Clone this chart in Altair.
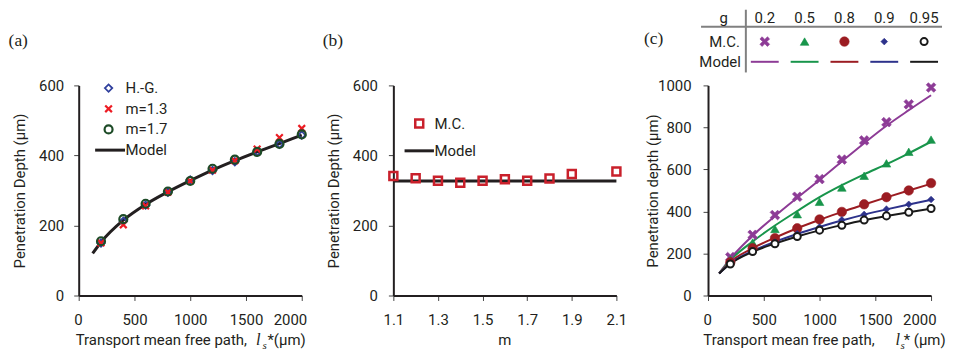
import altair as alt
import pandas as pd

FONT = "Roboto"
SERIF = "Liberation Serif"
INK = "#231f20"
GREY = "#808080"
W, H = 224, 211
FS = 15

XTHIN = "M-1,-1L1,1M-1,1L1,-1"
XFAT = "M-1,-0.55L-0.45,0L-1,0.55L-0.55,1L0,0.45L0.55,1L1,0.55L0.45,0L1,-0.55L0.55,-1L0,-0.45L-0.55,-1Z"

# ---------------- panel (a) data
a_ls = [200, 400, 600, 800, 1000, 1200, 1400, 1600, 1800, 2000]
a_hg = [150, 212, 258, 295, 330, 357, 382, 410, 432, 458]
a_m13 = [150, 202, 256, 295, 327, 358, 385, 418, 451, 477]
a_m17 = [155, 218, 262, 297, 327, 362, 388, 410, 433, 460]
a_model_ls = [125, 200, 400, 600, 800, 1000, 1200, 1400, 1600, 1800, 2000]
a_model = [120, 152, 215, 260, 296, 328, 358, 385, 410, 434, 458]
a_series = ["H.-G.", "m=1.3", "m=1.7", "Model"]
a_xticks = [0, 500, 1000, 1500, 2000]
a_yticks = [0, 200, 400, 600]

# ---------------- panel (b) data
b_m = [1.1, 1.2, 1.3, 1.4, 1.5, 1.6, 1.7, 1.8, 1.9, 2.1]
b_mc = [341, 335, 328, 322, 328, 332, 328, 334, 347, 354]
b_model_m = [1.1, 2.1]
b_model = [327, 327]
b_series = ["M.C.", "Model"]
b_xticks = [1.1, 1.3, 1.5, 1.7, 1.9, 2.1]
b_yticks = [0, 200, 400, 600]

# ---------------- panel (c) data
c_g = ["0.2", "0.5", "0.8", "0.9", "0.95"]
c_ls = [200, 400, 600, 800, 1000, 1200, 1400, 1600, 1800, 2000]
c_mc_02 = [183, 289, 383, 470, 554, 647, 738, 825, 910, 990]
c_mc_05 = [172, 252, 317, 387, 446, 514, 570, 629, 684, 742]
c_mc_08 = [158, 225, 273, 320, 362, 398, 434, 468, 500, 535]
c_mc_09 = [152, 212, 254, 294, 326, 360, 386, 411, 434, 457]
c_mc_095 = [150, 209, 246, 281, 311, 334, 359, 379, 396, 414]
c_model_ls = [100, 200, 400, 600, 800, 1000, 1200, 1400, 1600, 1800, 2000]
c_model_02 = [105, 175, 285, 378, 465, 550, 638, 725, 808, 882, 953]
c_model_05 = [105, 168, 257, 333, 402, 468, 525, 577, 625, 677, 732]
c_model_08 = [105, 160, 225, 275, 320, 360, 398, 433, 467, 500, 532]
c_model_09 = [105, 153, 212, 256, 293, 326, 357, 385, 410, 433, 455]
c_model_095 = [105, 151, 208, 247, 281, 310, 335, 358, 378, 396, 413]
c_xticks = [0, 500, 1000, 1500, 2000]
c_yticks = [0, 200, 400, 600, 800, 1000]

C_COLORS = ["#8d3b96", "#18954b", "#9b1c22", "#2d328b", "#1a1a1a"]


def note(text, x, y, align="left", baseline="alphabetic", font=FONT, size=FS,
         style="normal", color=INK):
    return alt.Chart(pd.DataFrame({"t": [text]})).mark_text(
        align=align, baseline=baseline, font=font, fontSize=size,
        fontStyle=style, color=color
    ).encode(x=alt.value(x), y=alt.value(y), text="t:N")


def ls_title(x_main_end, x_l, x_s, x_rest, rest):
    return [
        note("Transport mean free path,", x_main_end, 261, align="right"),
        note("l", x_l, 261, font=SERIF, size=16.5, style="italic"),
        note("s", x_s, 264.5, font=SERIF, size=11, style="italic"),
        note(rest, x_rest, 261),
    ]


# ================= panel (a)
a_pts = pd.DataFrame({
    "ls": a_ls * 3,
    "depth": a_hg + a_m13 + a_m17,
    "series": [a_series[0]] * 10 + [a_series[1]] * 10 + [a_series[2]] * 10,
})
a_mod = pd.DataFrame({"ls": a_model_ls, "depth": a_model})
a_leg = pd.DataFrame({"series": a_series})

A_STYLE = {
    "H.-G.": dict(shape="diamond", filled=False, stroke="#2f3f9d", size=55, strokeWidth=1.8),
    "m=1.3": dict(shape=XTHIN, filled=False, stroke="#ed1c24", size=45, strokeWidth=2.2),
    "m=1.7": dict(shape="circle", filled=False, stroke="#1d4b27", size=64, strokeWidth=2.2),
    "Model": dict(shape="stroke", filled=False, stroke=INK, size=900, strokeWidth=3, xOffset=1.5),
}

xa = alt.X("ls:Q", scale=alt.Scale(domain=[0, 2000], nice=False),
           axis=alt.Axis(values=a_xticks, format="d", title=None, labelFlush=True,
                         labelFlushOffset=5, labelPadding=12))
ya = alt.Y("depth:Q", scale=alt.Scale(domain=[0, 600], nice=False),
           axis=alt.Axis(values=a_yticks, format="d", title="Penetration Depth  (μm)",
                         labelPadding=10, titlePadding=11))

a_data = alt.layer(
    alt.Chart(a_mod).mark_line(color=INK, strokeWidth=3, interpolate="monotone").encode(x=xa, y=ya),
    *[alt.Chart(a_pts).transform_filter(alt.datum.series == s)
      .mark_point(opacity=1, **A_STYLE[s]).encode(x=xa, y=ya) for s in a_series[:3]]
)
a_ly = alt.Y("series:N", scale=alt.Scale(type="point", domain=a_series, range=[2.7, 65], padding=0), axis=None)
a_legend = alt.layer(
    *[alt.Chart(a_leg).transform_filter(alt.datum.series == s)
      .mark_point(opacity=1, **A_STYLE[s]).encode(x=alt.value(30), y=a_ly) for s in a_series],
    alt.Chart(a_leg).mark_text(align="left", baseline="middle", font=FONT, fontSize=FS, color=INK)
    .encode(x=alt.value(47), y=a_ly, text="series:N"),
)
panel_a = alt.layer(
    a_data, a_legend,
    note("(a)", -70.4, -40, font=SERIF, size=17.5),
    *ls_title(169, 178, 184.5, 189.5, "*(μm)"),
).resolve_scale(x="independent", y="independent").properties(width=W, height=H)

# ================= panel (b)
b_pts = pd.DataFrame({"m": b_m, "depth": b_mc, "series": ["M.C."] * len(b_m)})
b_mod = pd.DataFrame({"m": b_model_m, "depth": b_model})
b_leg = pd.DataFrame({"series": b_series})
B_STYLE = {
    "M.C.": dict(shape="square", filled=False, stroke="#c9202b", size=64, strokeWidth=2.5),
    "Model": dict(shape="stroke", filled=False, stroke=INK, size=870, strokeWidth=3),
}
xb = alt.X("m:Q", scale=alt.Scale(domain=[1.1, 2.1], nice=False, zero=False),
           axis=alt.Axis(values=b_xticks, format=".1f", title=None, labelFlush=False, labelPadding=12))
yb = alt.Y("depth:Q", scale=alt.Scale(domain=[0, 600], nice=False),
           axis=alt.Axis(values=b_yticks, format="d", title="Penetration Depth (μm)",
                         labelPadding=11, titlePadding=11))
b_data = alt.layer(
    alt.Chart(b_mod).mark_line(color=INK, strokeWidth=3).encode(x=xb, y=yb),
    alt.Chart(b_pts).mark_point(opacity=1, **B_STYLE["M.C."]).encode(x=xb, y=yb),
)
b_ly = alt.Y("series:N", scale=alt.Scale(type="point", domain=b_series, range=[38.3, 65.7], padding=0), axis=None)
b_legend = alt.layer(
    *[alt.Chart(b_leg).transform_filter(alt.datum.series == s)
      .mark_point(opacity=1, **B_STYLE[s]).encode(x=alt.value(26), y=b_ly) for s in b_series],
    alt.Chart(b_leg).mark_text(align="left", baseline="middle", font=FONT, fontSize=FS, color=INK)
    .encode(x=alt.value(41.3), y=b_ly, text="series:N"),
)
panel_b = alt.layer(
    b_data, b_legend,
    note("(b)", -71, -40, font=SERIF, size=17.5),
    note("m", 112, 261, align="center"),
).resolve_scale(x="independent", y="independent").properties(width=W, height=H)

# ================= panel (c)
c_mc_lists = [c_mc_02, c_mc_05, c_mc_08, c_mc_09, c_mc_095]
c_model_lists = [c_model_02, c_model_05, c_model_08, c_model_09, c_model_095]
c_pts = pd.DataFrame({
    "ls": c_ls * 5,
    "depth": sum(c_mc_lists, []),
    "g": sum([[g] * len(c_ls) for g in c_g], []),
})
c_mod = pd.DataFrame({
    "ls": c_model_ls * 5,
    "depth": sum(c_model_lists, []),
    "g": sum([[g] * len(c_model_ls) for g in c_g], []),
})
c_leg = pd.DataFrame({"g": c_g})
P, G, R, N, K = C_COLORS
C_STYLE = {
    "0.2": dict(shape=XFAT, filled=True, fill=P, stroke=P, strokeWidth=0.6, size=95),
    "0.5": dict(shape="triangle-up", filled=True, fill=G, stroke=G, strokeWidth=0.6, size=75),
    "0.8": dict(shape="circle", filled=True, fill=R, stroke=R, strokeWidth=0.6, size=90),
    "0.9": dict(shape="diamond", filled=True, fill=N, stroke=N, strokeWidth=0.6, size=45),
    "0.95": dict(shape="circle", filled=True, fill="white", stroke=K, strokeWidth=2, size=50),
}
xc = alt.X("ls:Q", scale=alt.Scale(domain=[0, 2000], nice=False),
           axis=alt.Axis(values=c_xticks, format="d", title=None, labelFlush=True,
                         labelFlushOffset=5, labelPadding=12))
yc = alt.Y("depth:Q", scale=alt.Scale(domain=[0, 1000], nice=False),
           axis=alt.Axis(values=c_yticks, format="d", title="Penetration depth (μm)",
                         labelPadding=12, titlePadding=-3))
c_data = alt.layer(
    alt.Chart(c_mod).mark_line(strokeWidth=2, interpolate="monotone").encode(
        x=xc, y=yc,
        color=alt.Color("g:N", scale=alt.Scale(domain=c_g, range=C_COLORS), legend=None)),
    *[alt.Chart(c_pts).transform_filter(alt.datum.g == g)
      .mark_point(opacity=1, **C_STYLE[g]).encode(x=xc, y=yc) for g in c_g]
)
c_lx = alt.X("g:N", scale=alt.Scale(type="point", domain=c_g, range=[57, 217], padding=0), axis=None)
c_legend = alt.layer(
    alt.Chart(c_leg).mark_text(align="center", baseline="middle", font=FONT, fontSize=FS, color=INK)
    .encode(x=c_lx, y=alt.value(-67.7), text="g:N"),
    *[alt.Chart(c_leg).transform_filter(alt.datum.g == g)
      .mark_point(opacity=1, **C_STYLE[g]).encode(x=c_lx, y=alt.value(-44)) for g in c_g],
    alt.Chart(c_leg).mark_point(shape="stroke", filled=False, opacity=1, size=784, strokeWidth=2)
    .encode(x=c_lx, y=alt.value(-23.7),
            stroke=alt.Stroke("g:N", scale=alt.Scale(domain=c_g, range=C_COLORS), legend=None)),
)
one = pd.DataFrame({"k": [0]})
c_table = [
    alt.Chart(one).mark_rule(color=GREY, strokeWidth=2).encode(
        x=alt.value(-7), x2=alt.value(235), y=alt.value(-59)),
    alt.Chart(one).mark_rule(color=GREY, strokeWidth=2).encode(
        x=alt.value(38), y=alt.value(-76), y2=alt.value(-13)),
    note("g", 15.7, -67.7, align="center", baseline="middle"),
    note("M.C.", 32, -44, align="right", baseline="middle"),
    note("Model", 33, -23.7, align="right", baseline="middle"),
]
panel_c = alt.layer(
    c_data, c_legend, *c_table,
    note("(c)", -64.3, -41.5, font=SERIF, size=17.5),
    *ls_title(167.3, 188.3, 193.3, 196.5, "* (μm)"),
).resolve_scale(x="independent", y="independent").properties(width=W, height=H)

chart = alt.hconcat(panel_a, panel_b, panel_c, spacing=92, bounds="flush").properties(
    padding={"left": 0, "top": 0, "right": 0, "bottom": 0}
).configure_axis(
    domainColor=INK, domainWidth=2, tickColor="#444444", tickWidth=1, tickSize=5,
    labelFont=FONT, labelFontSize=FS, labelColor=INK,
    titleFont=FONT, titleFontSize=FS, titleFontWeight="normal", titleColor=INK,
    grid=False,
).configure_view(stroke=None)

chart.save("out.html", embed_options={"renderer": "svg", "actions": False})
